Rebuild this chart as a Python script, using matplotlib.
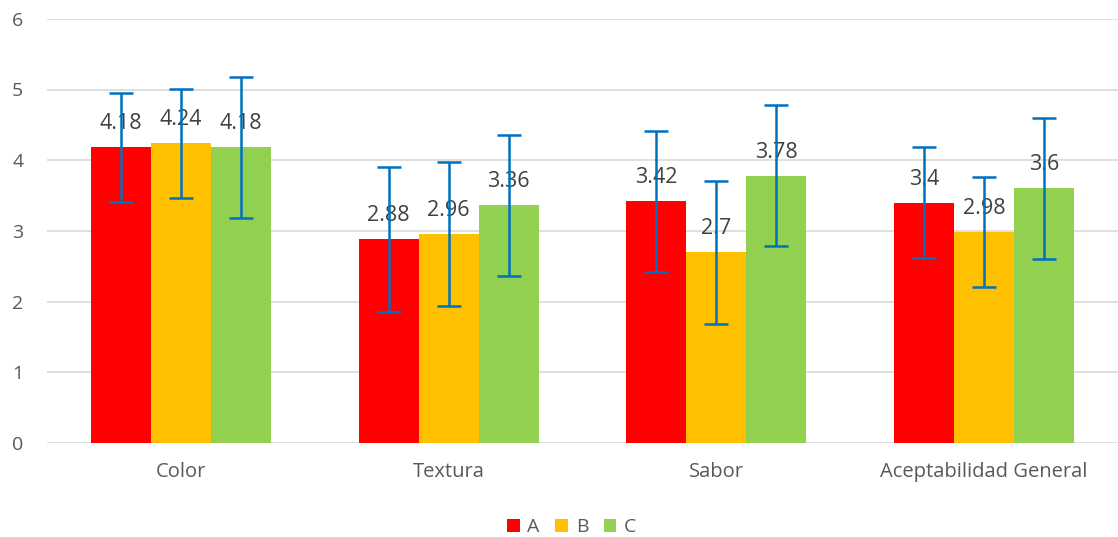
import matplotlib.pyplot as plt
import numpy as np

plt.rcParams['font.family'] = ['Open Sans', 'DejaVu Sans']

# datos
categorias = ["Color", "Textura", "Sabor", "Aceptabilidad General"]
muestras = ["A", "B", "C"]
valores_a = [4.18, 2.88, 3.42, 3.4]
valores_b = [4.24, 2.96, 2.7, 2.98]
valores_c = [4.18, 3.36, 3.78, 3.6]
error_a = [0.77, 1.02, 1.0, 0.78]
error_b = [0.77, 1.02, 1.01, 0.78]
error_c = [1.0, 1.0, 1.0, 1.0]

colores = ["#FF0000", "#FFC000", "#92D050"]
series = [valores_a, valores_b, valores_c]
errores = [error_a, error_b, error_c]

fig = plt.figure(figsize=(11.18, 5.37), dpi=100)
ax = fig.add_axes([0.042, 0.175, 0.958, 0.79])

x = np.arange(len(categorias))
ancho = 0.224

for i in range(3):
    pos = x + (i - 1) * ancho
    ax.bar(pos, series[i], ancho, color=colores[i], label=muestras[i], zorder=2)
    ax.errorbar(pos, series[i], yerr=errores[i], fmt='none', ecolor='#0070C0',
                elinewidth=1.8, capsize=8.5, capthick=1.8, zorder=4)
    for p, v in zip(pos, series[i]):
        ax.annotate(f"{v:g}", (p, v), xytext=(0, 17), textcoords='offset points',
                    ha='center', va='center', fontsize=15.5, color='#404040', zorder=3)

ax.set_ylim(0, 6)
ax.set_xlim(-0.5, len(categorias) - 0.5)
ax.set_xticks(x)
ax.set_xticklabels(categorias, fontsize=14.5, color='#595959')
ax.set_yticks(range(7))
ax.tick_params(axis='y', labelsize=14, labelcolor='#595959', length=0, pad=17)
ax.tick_params(axis='x', length=0, pad=14)
ax.grid(axis='y', color='#D9D9D9', linewidth=1.2, zorder=0)
for s in ax.spines.values():
    s.set_visible(False)

ax.legend(loc='center', bbox_to_anchor=(0.49, -0.198), ncol=3, frameon=False,
          fontsize=14, handlelength=0.65, handleheight=0.65, handletextpad=0.4,
          columnspacing=0.8, labelcolor='#595959')

plt.savefig("out.png", dpi=100)
